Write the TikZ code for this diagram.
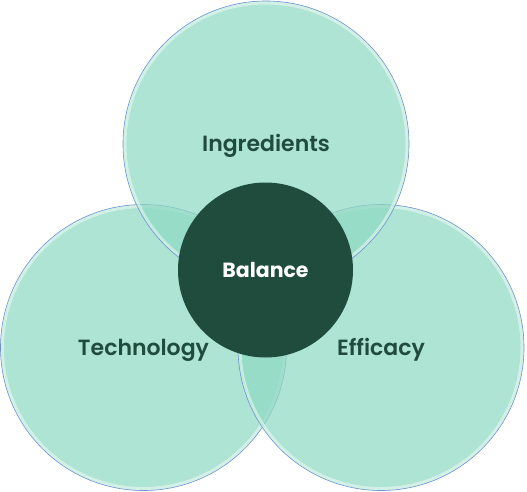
\documentclass[tikz,border=0pt]{standalone}
\usepackage{fontspec}
\setmainfont{Poppins}[BoldFont={Poppins SemiBold}]
\newfontfamily\corefont{Poppins Bold}
\usepackage{tikz}
\usetikzlibrary{positioning}

\definecolor{petalgreen}{RGB}{142,217,194}
\definecolor{edgeblue}{RGB}{108,145,212}
\definecolor{deepgreen}{RGB}{31,76,61}

\tikzset{
  petal/.style={circle,minimum size=286pt,inner sep=0pt,fill=petalgreen,fill opacity=0.72,
    text opacity=1,draw=edgeblue,line width=0.6pt,text=deepgreen,
    text height=20pt,text depth=4.6pt,font=\bfseries\fontsize{22}{26}\selectfont},
  ring/.style={draw=white,draw opacity=0.45,line width=3pt},
  core/.style={circle,minimum size=175pt,inner sep=0pt,fill=deepgreen,text=white,
    text height=18pt,text depth=4pt,font=\corefont\fontsize{20.5}{24}\selectfont}
}

\begin{document}
\begin{tikzpicture}[x=1pt,y=1pt]
  \useasboundingbox (0,0) rectangle (527,-492);

  % left circle
  \node[petal] (tech) at (143.5,-347.5) {Technology};
  \draw[ring] (tech.center) circle (141);
  % right circle
  \node[petal] (effi) at (381,-347.5) {Efficacy};
  \draw[ring] (effi.center) circle (141);
  % top circle
  \node[petal] (ingr) at (266,-144) {Ingredients};
  \draw[ring] (ingr.center) circle (141);

  % middle
  \node[core] (bal) at (265.5,-270) {Balance};
\end{tikzpicture}
\end{document}
